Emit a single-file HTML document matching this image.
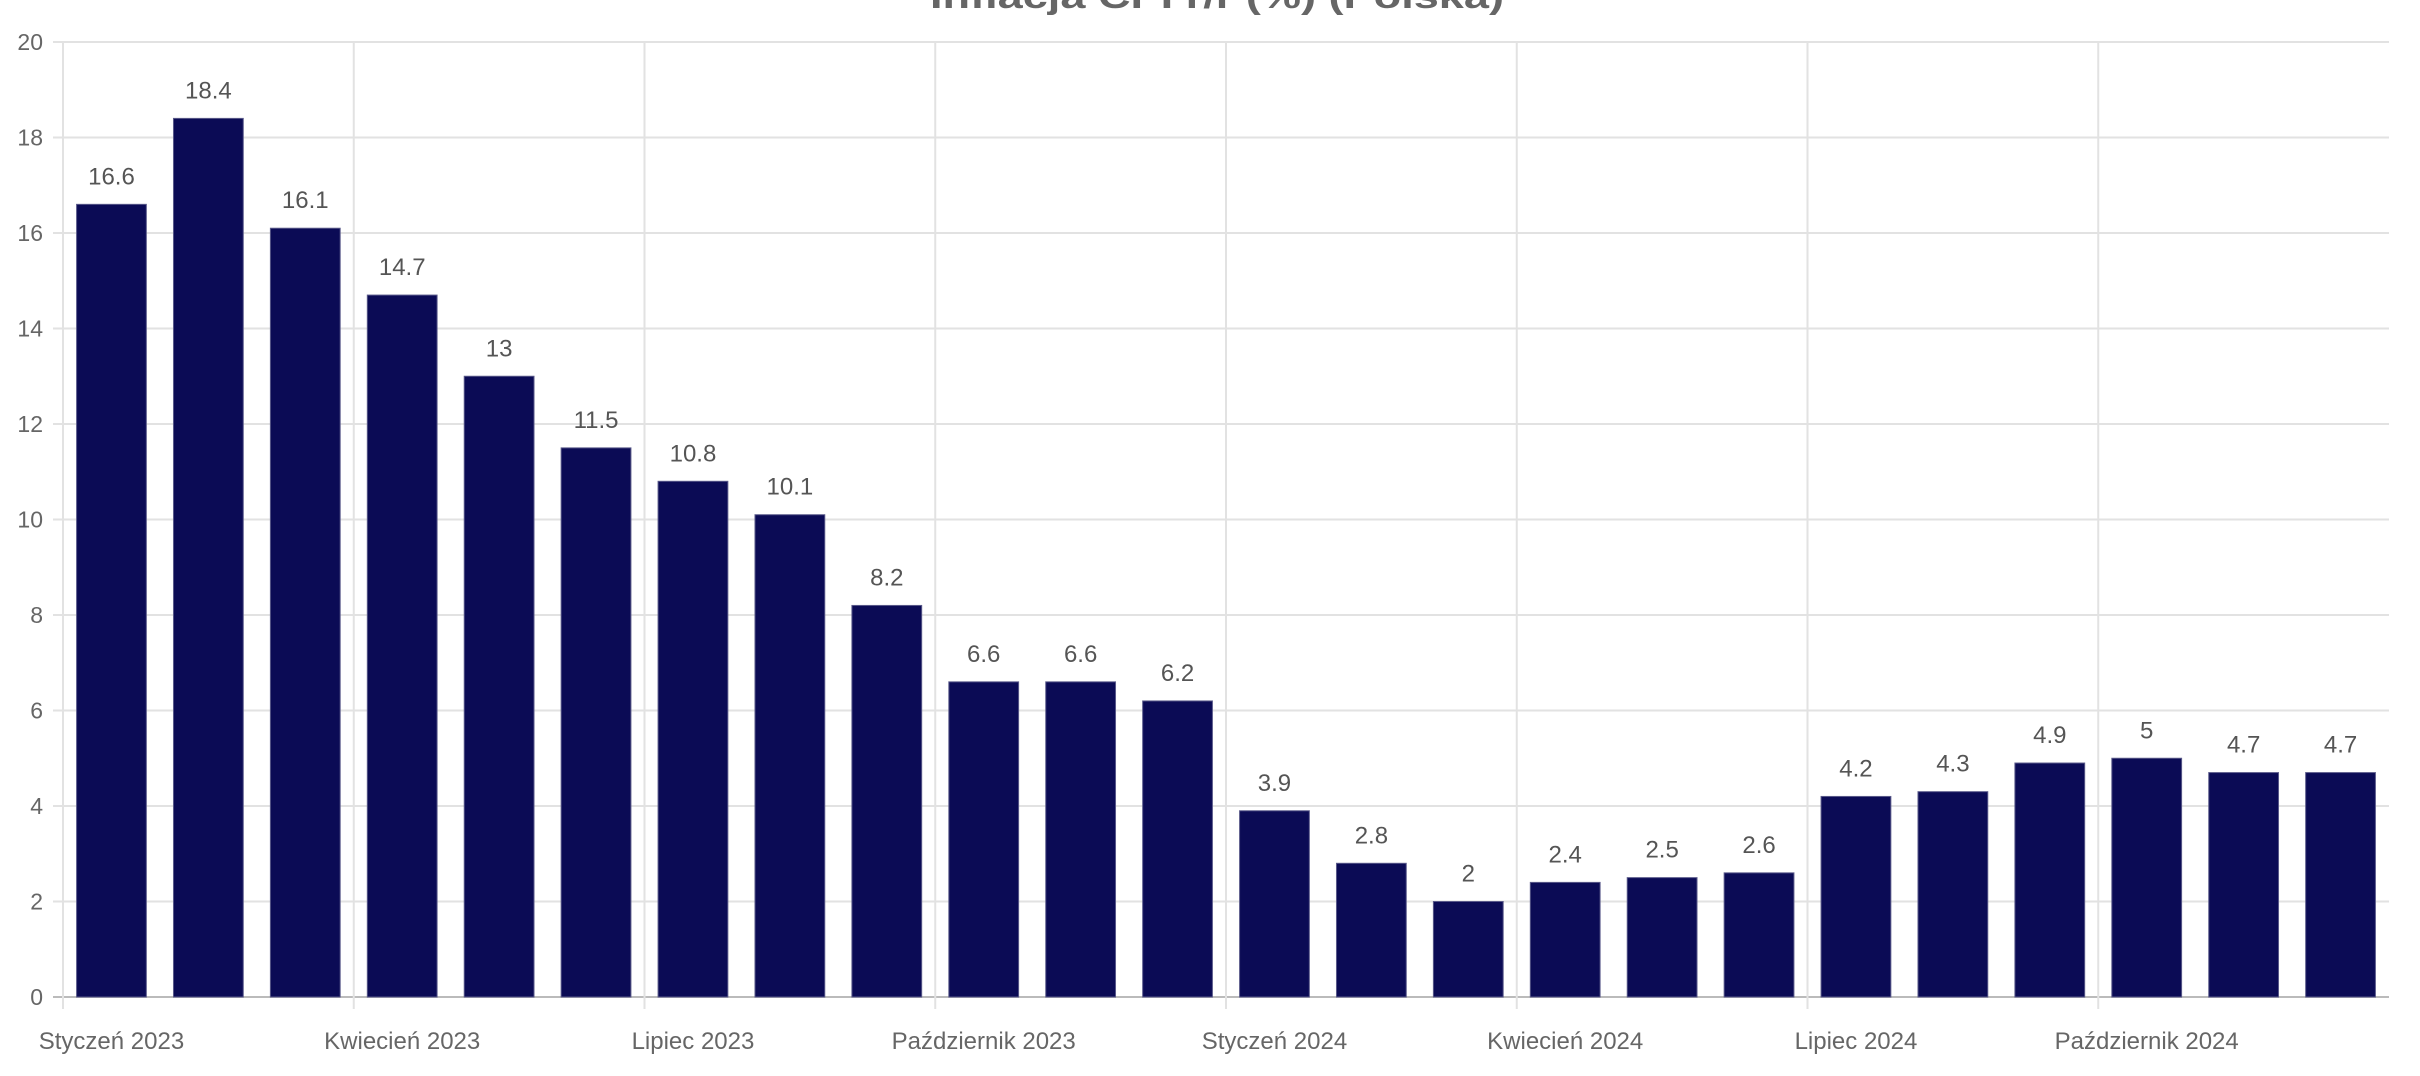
<!DOCTYPE html>
<html><head><meta charset="utf-8"><style>
html,body{margin:0;padding:0;background:#fff;}
svg{display:block;font-family:"Liberation Sans",Arial,sans-serif;}
</style></head><body>
<svg id="chart" width="2420" height="1076" viewBox="0 0 2420 1076" xmlns="http://www.w3.org/2000/svg">
<text x="1217" y="8" text-anchor="middle" font-size="34" font-weight="bold" fill="#666" textLength="574" lengthAdjust="spacingAndGlyphs">Inflacja CPI r/r (%) (Polska)</text>
<g id="grid"></g><g id="bars"></g><g id="labels"></g>
</svg>
<script>
const categories=["Styczeń 2023","Luty 2023","Marzec 2023","Kwiecień 2023","Maj 2023","Czerwiec 2023","Lipiec 2023","Sierpień 2023","Wrzesień 2023","Październik 2023","Listopad 2023","Grudzień 2023","Styczeń 2024","Luty 2024","Marzec 2024","Kwiecień 2024","Maj 2024","Czerwiec 2024","Lipiec 2024","Sierpień 2024","Wrzesień 2024","Październik 2024","Listopad 2024","Grudzień 2024"];
const values=[16.6,18.4,16.1,14.7,13,11.5,10.8,10.1,8.2,6.6,6.6,6.2,3.9,2.8,2,2.4,2.5,2.6,4.2,4.3,4.9,5,4.7,4.7];
const yTicks=[0,2,4,6,8,10,12,14,16,18,20];
const NS="http://www.w3.org/2000/svg";
const L=63,R=2389,T=42,B=997,yMax=20;
const step=(R-L)/categories.length;
const y=v=>B-(v/yMax)*(B-T);
const xc=i=>L+(i+0.5)*step;
function mk(t,a,p){const e=document.createElementNS(NS,t);for(const k in a)e.setAttribute(k,a[k]);p.appendChild(e);return e;}
const grid=document.getElementById('grid'),bars=document.getElementById('bars'),labels=document.getElementById('labels');
yTicks.forEach(v=>{
  const ln=mk('line',{x1:L-10,x2:R,y1:y(v),y2:y(v),stroke:v===0?'#bbb':'#e2e2e2','stroke-width':2},grid);
  
  
  const t=mk('text',{x:L-20,y:y(v)+8,'text-anchor':'end','font-size':23,fill:'#666'},labels);
  t.textContent=v;
  
  
});
categories.forEach((c,i)=>{
  if(i%3===0){
    const gx=L+i*step;
    const ln=mk('line',{x1:gx,x2:gx,y1:T,y2:B+12,stroke:'#e2e2e2','stroke-width':2},grid);
    
    
    const t=mk('text',{x:xc(i),y:1049,'text-anchor':'middle','font-size':24,fill:'#666'},labels);
    t.textContent=c;
    
    
  }
});
values.forEach((v,i)=>{
  const w=step*0.72;
  const r=mk('rect',{x:xc(i)-w/2,y:y(v),width:w,height:B-y(v),fill:'#0b0b55',stroke:'#5a5a8a','stroke-width':1},bars);
  
  
  const t=mk('text',{x:xc(i),y:y(v)-20,'text-anchor':'middle','font-size':24,fill:'#555'},labels);
  t.textContent=v;
  
  
});
</script>
</body></html>
